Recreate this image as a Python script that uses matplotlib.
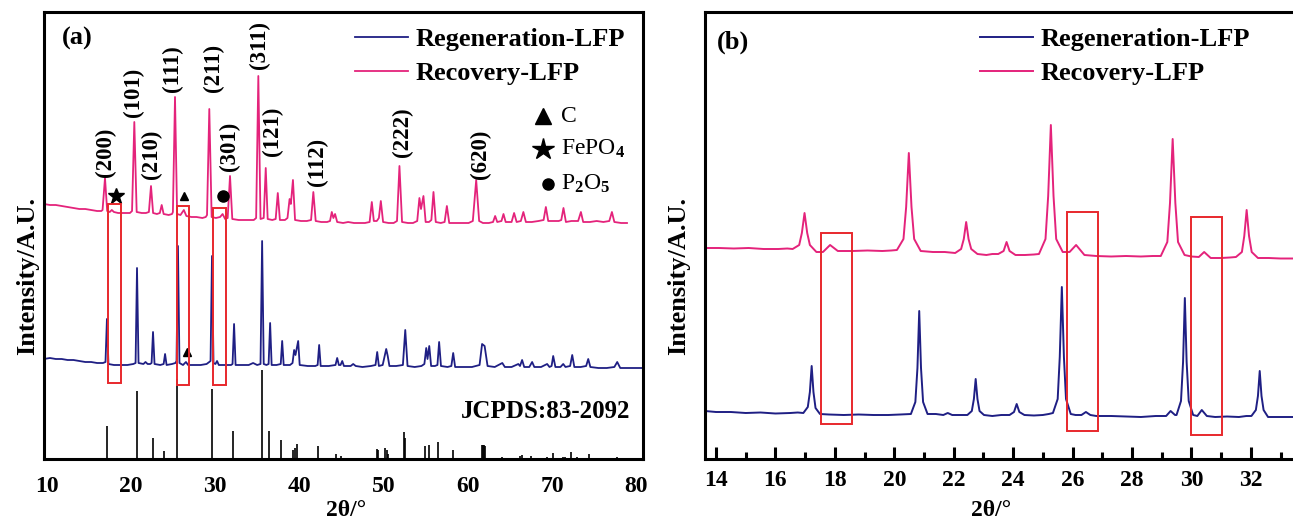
import numpy as np
import matplotlib
matplotlib.use('Agg')
import matplotlib.pyplot as plt
from matplotlib.patches import Rectangle

plt.rcParams['font.family'] = ['Liberation Serif', 'DejaVu Serif']
plt.rcParams['font.weight'] = 'bold'
plt.rcParams['mathtext.fontset'] = 'custom'
plt.rcParams['mathtext.rm'] = 'Liberation Serif'
plt.rcParams['mathtext.it'] = 'Liberation Serif:italic'
plt.rcParams['mathtext.bf'] = 'Liberation Serif:bold'

PINK = '#E4237B'
NAVY = '#1F1F84'
RED = '#E8282C'

# ---- panel (a): full pattern, 10-80 deg ----
regen_a = [(9.7, 100), (10.4, 101), (11.1, 100), (11.8, 100), (12.5, 99), (13.2, 99), (13.9, 98),
           (14.6, 97), (15.3, 97), (16.0, 96), (16.7, 96),
           (17.0, 97), (17.17, 140), (17.35, 95),
           (18.0, 94), (18.8, 94), (19.6, 94), (20.3, 95),
           (20.57, 96), (20.74, 191), (20.92, 96),
           (21.5, 95), (21.75, 97), (22.0, 95), (22.3, 95),
           (22.47, 96), (22.64, 127), (22.82, 95),
           (23.5, 94), (23.9, 95), (24.07, 105), (24.25, 94),
           (24.9, 95), (25.3, 96), (25.43, 98), (25.6, 213), (25.78, 96),
           (26.2, 94), (26.55, 97), (26.8, 94), (27.5, 94), (28.3, 94), (29.0, 95), (29.3, 97),
           (29.47, 98), (29.64, 203), (29.82, 96),
           (30.05, 95), (30.24, 98), (30.45, 94), (31.2, 94), (31.9, 94),
           (32.08, 95), (32.26, 135), (32.44, 94),
           (33.2, 94), (34.0, 94), (34.52, 96), (35.0, 94), (35.4, 95),
           (35.59, 218), (35.78, 95),
           (36.1, 94), (36.36, 95), (36.54, 136), (36.72, 94),
           (37.3, 94), (37.8, 95), (37.97, 118), (38.15, 94),
           (38.9, 94), (39.2, 96), (39.39, 109), (39.55, 104), (39.87, 118), (40.05, 94),
           (41.0, 93), (41.9, 93), (42.18, 94), (42.36, 114), (42.54, 93),
           (43.5, 93), (44.3, 94), (44.5, 101), (44.7, 94), (44.9, 94), (45.1, 98), (45.3, 93),
           (46.1, 93), (46.4, 95), (46.7, 93), (47.5, 92), (48.5, 93), (49.05, 94),
           (49.25, 107), (49.45, 93), (49.9, 94), (50.32, 110), (50.5, 103), (50.7, 93),
           (51.5, 93), (52.3, 94), (52.58, 129), (52.85, 93),
           (53.7, 92), (54.5, 93), (54.85, 95), (55.07, 111), (55.22, 100), (55.43, 113), (55.65, 93),
           (56.1, 93), (56.4, 94), (56.6, 117), (56.82, 93),
           (57.6, 92), (58.05, 93), (58.27, 106), (58.5, 92),
           (59.5, 92), (60.5, 92), (61.4, 94), (61.7, 115), (61.84, 114), (62.0, 113), (62.35, 93),
           (63.2, 92), (64.1, 96), (64.4, 92), (65.2, 92), (66.0, 95), (66.2, 93), (66.45, 99), (66.7, 92),
           (67.3, 92), (67.64, 97), (67.9, 92), (68.7, 92), (69.42, 95), (69.7, 92), (69.95, 93),
           (70.14, 103), (70.4, 92),
           (71.0, 92), (71.33, 95), (71.6, 92), (72.15, 93), (72.4, 104), (72.65, 92),
           (73.4, 92), (74.05, 93), (74.3, 100), (74.55, 92), (75.5, 91), (76.5, 91), (77.4, 92),
           (77.74, 97), (78.1, 91), (79.0, 91), (80.0, 91), (80.8, 91)]

recov_a = [(9.7, 255), (10.4, 254), (11.1, 254), (11.8, 253), (12.5, 252), (13.2, 251), (13.9, 250),
           (14.6, 250), (15.3, 249), (16.0, 248), (16.5, 248),
           (16.65, 249), (16.94, 281), (17.2, 248),
           (17.5, 247), (17.75, 249), (18.0, 247), (18.5, 246), (19.2, 246), (19.9, 246),
           (20.15, 248), (20.42, 337), (20.7, 247),
           (21.3, 246), (21.8, 246), (22.15, 247), (22.4, 273), (22.65, 246),
           (23.1, 245), (23.45, 246), (23.67, 254), (23.9, 245),
           (24.5, 244), (24.9, 245), (25.0, 247), (25.25, 362), (25.5, 245),
           (25.9, 244), (26.3, 249), (26.6, 243), (27.2, 242), (27.8, 242), (28.5, 241), (28.9, 242),
           (29.05, 244), (29.32, 350), (29.6, 242),
           (30.1, 241), (30.6, 242), (30.9, 245), (31.2, 240), (31.5, 241), (31.78, 283), (32.05, 240),
           (32.8, 239), (33.6, 239), (34.2, 239), (34.6, 239), (34.88, 241), (35.14, 383), (35.4, 240),
           (35.78, 241), (36.02, 291), (36.25, 240), (36.8, 239), (37.2, 240), (37.45, 266), (37.7, 239),
           (38.3, 239), (38.6, 241), (38.85, 260), (39.0, 255), (39.25, 279), (39.5, 239),
           (40.2, 238), (40.9, 238), (41.4, 239), (41.67, 267), (41.95, 238),
           (42.6, 237), (43.3, 237), (43.65, 238), (43.86, 247), (44.05, 241), (44.25, 245), (44.5, 237),
           (45.2, 236), (45.8, 237), (46.5, 236), (47.2, 236), (47.8, 236), (48.35, 237), (48.61, 257),
           (48.85, 238), (49.2, 238), (49.45, 241), (49.68, 258), (49.95, 237), (50.6, 236), (51.2, 236),
           (51.6, 238), (51.89, 293), (52.2, 237),
           (52.9, 236), (53.5, 236), (54.0, 238), (54.26, 261), (54.45, 250), (54.74, 263), (55.0, 237),
           (55.4, 237), (55.68, 239), (55.93, 267), (56.2, 237), (56.8, 236), (57.25, 237), (57.52, 253),
           (57.8, 236), (58.5, 236), (59.3, 236), (60.1, 236), (60.6, 238), (61.0, 279), (61.35, 238),
           (61.8, 236), (62.5, 236), (63.0, 237), (63.25, 243), (63.5, 237), (64.0, 238), (64.24, 245),
           (64.5, 237), (65.2, 237), (65.5, 246), (65.8, 237),
           (66.3, 238), (66.6, 247), (66.9, 237), (67.6, 237), (68.4, 238), (69.0, 239), (69.27, 252),
           (69.55, 238), (70.2, 238), (70.8, 238), (71.1, 239), (71.36, 251), (71.65, 237), (72.3, 238),
           (73.1, 238), (73.43, 247), (73.7, 237), (74.5, 237), (75.3, 238), (76.1, 237), (76.8, 238),
           (77.11, 247), (77.4, 237), (78.2, 236), (78.9, 236)]

# JCPDS 83-2092 reference lines (position, relative height)
ref_pos = [17.14, 20.70, 22.60, 23.98, 25.52, 29.64, 32.17, 34.36, 35.54, 36.45, 37.80, 39.30, 39.50,
           39.77, 42.23, 44.33, 44.93, 49.20, 49.32, 50.19, 50.39, 50.58, 52.45, 52.60, 54.94, 55.42,
           56.52, 58.19, 61.67, 61.80, 61.95, 62.07, 64.05, 66.20, 66.45, 67.50, 69.40, 70.10, 71.30,
           71.50, 72.25, 72.96, 74.34, 77.70]
ref_int = [33, 68, 21, 8, 80, 70, 28, 1, 89, 28, 19, 9, 11,
           15, 13, 5, 3, 10, 9, 11, 9, 5, 27, 21, 13, 14,
           17, 9, 14, 14, 14, 13, 2, 3, 4, 3, 2, 6, 2,
           2, 7, 2, 5, 2]

hkl_labels = ['(200)', '(101)', '(210)', '(111)', '(211)', '(301)', '(311)', '(121)', '(112)', '(222)', '(620)']
hkl_x = [16.94, 20.35, 22.5, 25.0, 29.8, 31.66, 35.3, 36.77, 42.1, 52.2, 61.47]
hkl_y = [282, 342, 280, 367, 367, 288, 390, 303, 273, 302, 280]

# impurity boxes (x0, x1, y0, y1)
boxes_a = [(17.28, 18.8, 76, 255), (25.45, 26.95, 74, 253), (29.8, 31.3, 74, 251)]

# ---- panel (b): zoom 14-33 deg ----
regen_b = [(13.63, 48), (14.0, 47), (14.5, 47), (15.0, 46), (15.5, 46.5), (16.0, 45.5), (16.5, 46), (16.75, 46.5),
           (16.94, 46), (17.09, 52), (17.16, 67), (17.22, 93), (17.28, 67), (17.35, 51), (17.50, 45),
           (17.8, 44.5), (18.3, 44), (18.8, 44.5), (19.3, 44), (19.8, 44), (20.2, 44.5),
           (20.56, 45), (20.71, 57), (20.78, 91), (20.84, 148), (20.90, 91), (20.97, 57), (21.12, 45),
           (21.4, 45), (21.65, 44), (21.8, 46), (21.95, 44), (22.2, 44),
           (22.46, 44), (22.61, 48), (22.68, 60), (22.74, 80), (22.80, 60), (22.87, 48), (23.02, 44),
           (23.3, 43), (23.6, 44),
           (23.88, 44), (24.03, 47), (24.12, 55), (24.21, 47), (24.38, 44),
           (24.7, 43.5), (25.0, 44), (25.2, 45),
           (25.34, 46), (25.50, 60), (25.57, 102), (25.64, 172), (25.71, 102), (25.78, 60), (25.94, 45),
           (26.1, 44), (26.3, 44), (26.45, 47), (26.6, 44),
           (26.8, 43), (27.3, 43), (27.8, 42.5), (28.3, 42), (28.8, 43),
           (29.15, 43), (29.3, 48), (29.45, 44),
           (29.5, 44), (29.65, 58), (29.72, 97), (29.78, 161), (29.84, 97), (29.91, 58), (30.06, 44),
           (30.2, 43), (30.35, 49), (30.52, 43),
           (30.8, 42), (31.2, 42.5), (31.6, 42), (31.85, 43),
           (32.02, 43), (32.17, 49), (32.24, 63), (32.30, 88), (32.36, 63), (32.43, 49), (32.58, 42),
           (32.9, 42), (33.42, 42)]

recov_b = [(13.63, 211), (14.1, 211), (14.6, 210.5), (15.1, 211), (15.6, 210), (16.1, 210), (16.4, 210.5),
           (16.58, 210), (16.80, 214), (16.89, 226), (16.98, 246), (17.07, 226), (17.16, 214), (17.38, 207),
           (17.6, 207), (17.84, 214), (18.1, 208),
           (18.6, 208), (19.1, 208.5), (19.6, 208), (19.9, 208.5),
           (20.09, 209), (20.31, 220), (20.40, 252), (20.49, 306), (20.58, 252), (20.67, 220), (20.89, 208),
           (21.3, 207), (21.7, 207),
           (22.05, 206), (22.25, 210), (22.34, 220), (22.42, 237), (22.50, 220), (22.59, 210), (22.8, 205),
           (23.1, 204), (23.3, 205),
           (23.5, 205), (23.68, 208), (23.78, 217), (23.88, 208), (24.08, 204),
           (24.4, 204), (24.7, 204.5),
           (24.87, 205), (25.09, 220), (25.18, 263), (25.27, 334), (25.36, 263), (25.45, 220), (25.67, 207),
           (25.9, 207), (26.12, 214), (26.4, 204),
           (26.8, 203), (27.3, 202.5), (27.8, 203), (28.3, 202.5), (28.7, 203),
           (28.97, 203), (29.19, 217), (29.28, 256), (29.37, 320), (29.46, 256), (29.55, 217), (29.77, 204),
           (30.0, 202.5), (30.25, 202), (30.43, 207), (30.65, 201),
           (31.0, 201), (31.3, 201.5),
           (31.5, 202), (31.70, 207), (31.78, 223), (31.86, 249), (31.94, 223), (32.03, 207), (32.24, 201),
           (32.6, 201), (33.0, 200.5), (33.42, 200.5)]

boxes_b = [(17.55, 18.57, 35, 226), (25.81, 26.86, 28, 247), (30.0, 31.04, 24, 242)]


def draw_boxes(ax, boxes):
    for x0, x1, y0, y1 in boxes:
        ax.add_patch(Rectangle((x0, y0), x1 - x0, y1 - y0, fill=False, ec=RED, lw=1.4, zorder=4))


def style_axes(ax):
    for s in ax.spines.values():
        s.set_linewidth(2.2)
    ax.set_yticks([])
    ax.set_ylim(0, 447)
    ax.set_ylabel('Intensity/A.U.', fontsize=19, fontweight='bold')
    ax.set_xlabel('2θ/°', fontsize=17, fontweight='bold')


fig = plt.figure(figsize=(12.93, 5.21), dpi=100)
W, H = 1293.0, 521.0
ax1 = fig.add_axes([44 / W, (H - 459) / H, 599 / W, 447 / H])
ax2 = fig.add_axes([705 / W, (H - 459) / H, 588 / W, 447 / H])

# (a)
x, y = zip(*regen_a)
ax1.plot(x, y, color=NAVY, lw=1.3, label='Regeneration-LFP')
x, y = zip(*recov_a)
ax1.plot(x, y, color=PINK, lw=1.3, label='Recovery-LFP')
ax1.vlines(ref_pos, 0, ref_int, color='black', lw=1.2)
draw_boxes(ax1, boxes_a)
for lab, hx, hy in zip(hkl_labels, hkl_x, hkl_y):
    ax1.text(hx, hy, lab, rotation=90, ha='center', va='bottom', fontsize=16.5, fontweight='bold')

ax1.plot(18.28, 263, marker='*', color='black', ms=12)
ax1.plot(26.32, 263, marker='^', color='black', ms=6)
ax1.plot(30.9, 263, marker='o', color='black', ms=8)
ax1.plot(26.64, 107, marker='^', color='black', ms=6)

ax1.plot(68.96, 343, marker='^', color='black', ms=12)
ax1.plot(68.96, 310, marker='*', color='black', ms=16)
ax1.plot(69.5, 275, marker='o', color='black', ms=8)
ax1.text(71.1, 343, 'C', fontsize=17, fontweight='normal', va='center')
ax1.text(71.1, 310, 'FePO$_4$', fontsize=17, fontweight='normal', va='center')
ax1.text(71.1, 275, 'P$_2$O$_5$', fontsize=17, fontweight='normal', va='center')

ax1.text(69.3, 47, 'JCPDS:83-2092', fontsize=18, fontweight='bold', ha='center', va='center')
ax1.text(11.8, 421, '(a)', fontsize=19, fontweight='bold', va='center')

ax1.set_xlim(9.7, 80.8)
ax1.set_xticks([10, 20, 30, 40, 50, 60, 70, 80])
ax1.tick_params(axis='x', length=0, pad=12, labelsize=17)
style_axes(ax1)
ax1.yaxis.set_label_coords(-0.008, 0.41)
ax1.xaxis.set_label_coords(0.505, -0.092)
ax1.legend(loc='upper left', bbox_to_anchor=(0.519, 0.965), frameon=False, fontsize=19,
           handlelength=2.0, handletextpad=0.3, labelspacing=0.4, borderpad=0, borderaxespad=0)

# (b)
x, y = zip(*regen_b)
ax2.plot(x, y, color=NAVY, lw=1.4, label='Regeneration-LFP')
x, y = zip(*recov_b)
ax2.plot(x, y, color=PINK, lw=1.4, label='Recovery-LFP')
draw_boxes(ax2, boxes_b)
ax2.text(14.02, 417, '(b)', fontsize=19, fontweight='bold', va='center')

ax2.set_xlim(13.63, 33.42)
ax2.set_xticks(np.arange(14, 34, 2))
ax2.set_xticks(np.arange(15, 34, 2), minor=True)
ax2.tick_params(axis='x', which='major', direction='in', length=9, width=2.2, pad=8, labelsize=17)
ax2.tick_params(axis='x', which='minor', direction='in', length=5, width=2.2)
style_axes(ax2)
ax2.spines['right'].set_visible(False)
ax2.yaxis.set_label_coords(-0.026, 0.41)
ax2.xaxis.set_label_coords(0.486, -0.092)
ax2.legend(loc='upper left', bbox_to_anchor=(0.468, 0.965), frameon=False, fontsize=19,
           handlelength=2.0, handletextpad=0.3, labelspacing=0.4, borderpad=0, borderaxespad=0)

fig.savefig('out.png', dpi=100)
